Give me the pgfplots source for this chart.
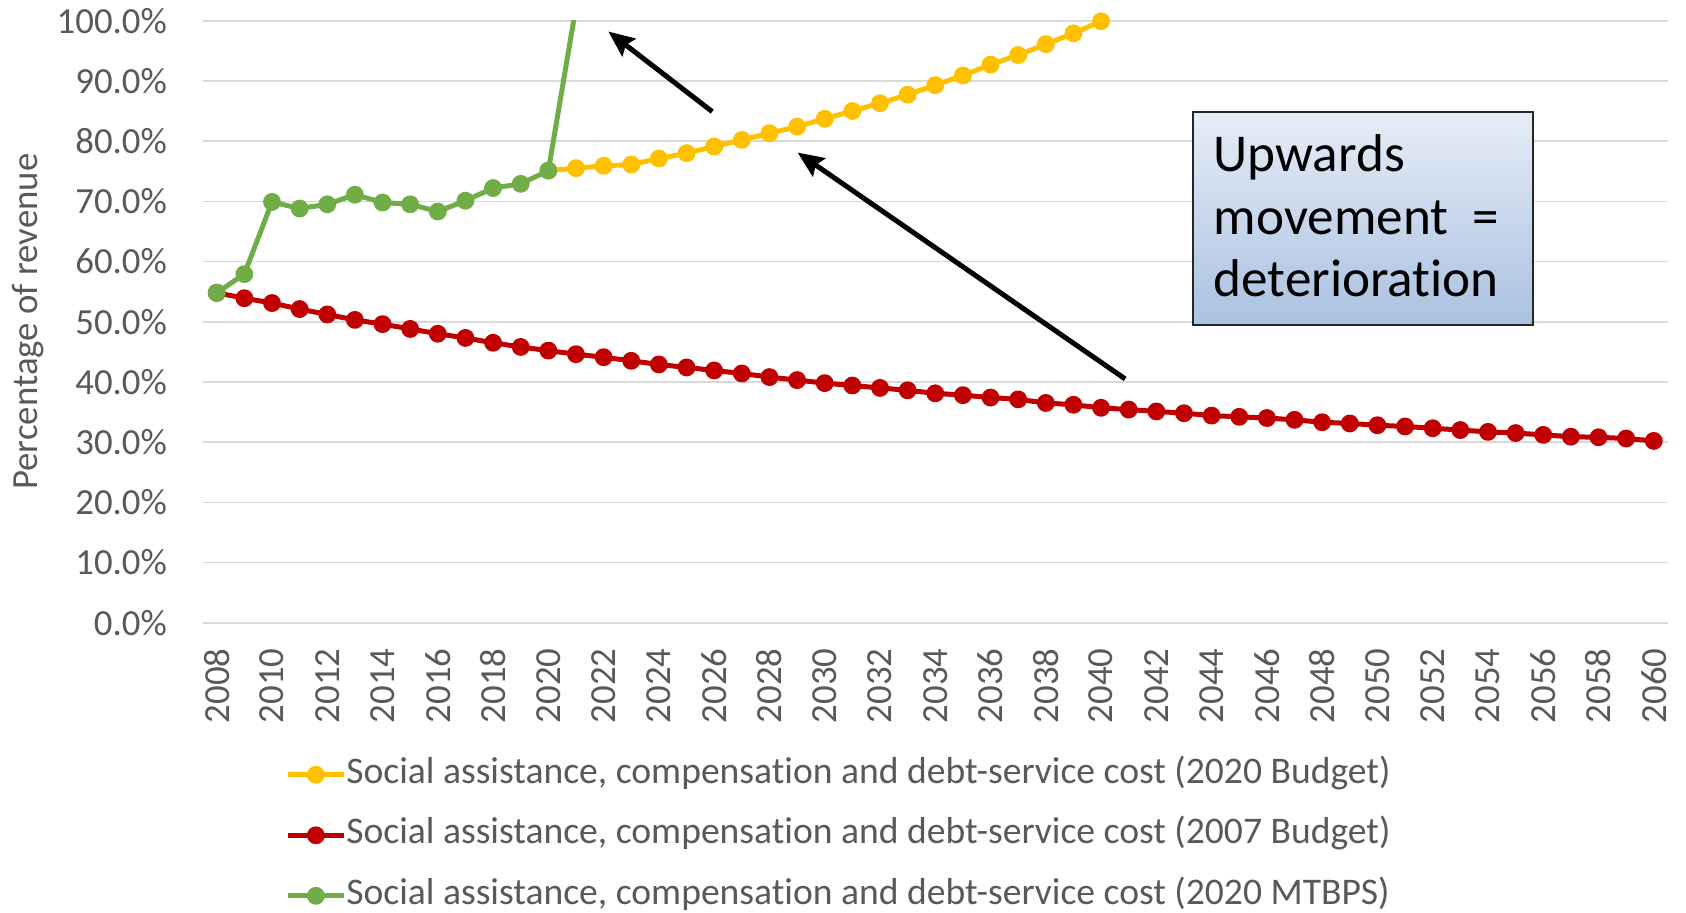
\documentclass[border=0pt]{standalone}
\usepackage{fontspec}
\setmainfont{Carlito}[Ligatures=NoCommon]
\usepackage{pgfplots}
\pgfplotsset{compat=1.18}
\usetikzlibrary{arrows.meta}

\definecolor{budgetYellow}{HTML}{FFC000}
\definecolor{budgetRed}{HTML}{C00000}
\definecolor{mtbpsGreen}{HTML}{70AD47}
\definecolor{tickGray}{HTML}{595959}
\definecolor{gridGray}{HTML}{D9D9D9}
\definecolor{boxTop}{HTML}{E6EDF7}
\definecolor{boxBottom}{HTML}{AAC1E0}

\newcommand\chartfont{\fontsize{18.4pt}{22pt}\selectfont}
\newcommand\legendfont{\fontsize{18.8pt}{22pt}\selectfont}
\newcommand\boxfont{\fontsize{26.6pt}{31pt}\selectfont}

% Spending ratios (% of revenue)
\pgfplotstableread{
year value
2020 75.1
2021 75.5
2022 75.9
2023 76.1
2024 77.1
2025 78.0
2026 79.1
2027 80.2
2028 81.3
2029 82.4
2030 83.7
2031 85.0
2032 86.3
2033 87.7
2034 89.3
2035 90.9
2036 92.7
2037 94.3
2038 96.1
2039 97.9
2040 99.9
}\budgetTwentyTwenty

\pgfplotstableread{
year value
2008 54.8
2009 53.9
2010 53.1
2011 52.1
2012 51.2
2013 50.3
2014 49.6
2015 48.8
2016 48.0
2017 47.3
2018 46.5
2019 45.8
2020 45.2
2021 44.6
2022 44.1
2023 43.5
2024 42.9
2025 42.4
2026 41.9
2027 41.4
2028 40.8
2029 40.3
2030 39.8
2031 39.4
2032 39.0
2033 38.6
2034 38.1
2035 37.8
2036 37.4
2037 37.1
2038 36.5
2039 36.2
2040 35.7
2041 35.4
2042 35.1
2043 34.8
2044 34.4
2045 34.2
2046 34.0
2047 33.7
2048 33.3
2049 33.1
2050 32.8
2051 32.6
2052 32.3
2053 32.0
2054 31.7
2055 31.5
2056 31.2
2057 30.9
2058 30.8
2059 30.6
2060 30.2
}\budgetTwoThousandSeven

\pgfplotstableread{
year value
2008 54.8
2009 57.9
2010 69.9
2011 68.8
2012 69.5
2013 71.1
2014 69.8
2015 69.5
2016 68.3
2017 70.1
2018 72.2
2019 72.9
2020 75.1
2021 102.3
}\mtbps

\begin{document}
\begin{tikzpicture}
\useasboundingbox (0,0) rectangle (843pt,456pt);
\begin{axis}[
  at={(101.45pt,144.65pt)}, anchor=south west,
  width=732.35pt, height=301pt, scale only axis,
  xmin=2007.5, xmax=2060.5, ymin=0, ymax=100,
  clip mode=individual,
  axis line style={draw=none},
  major tick length=0pt,
  ymajorgrids, grid style={gridGray, line width=0.8pt},
  xtick={2008,2010,...,2060},
  xticklabels={2008,2010,2012,2014,2016,2018,2020,2022,2024,2026,2028,2030,2032,2034,2036,2038,2040,2042,2044,2046,2048,2050,2052,2054,2056,2058,2060},
  ytick={0,10,...,100},
  yticklabels={0.0\%,10.0\%,20.0\%,30.0\%,40.0\%,50.0\%,60.0\%,70.0\%,80.0\%,90.0\%,100.0\%},
  xticklabel style={rotate=90, anchor=east, inner sep=0pt, font=\chartfont, text=tickGray},
  xticklabel shift=12.8pt,
  yticklabel style={anchor=east, inner sep=0pt, font=\chartfont, text=tickGray},
  yticklabel shift=17.8pt,
  ylabel={Percentage of revenue},
  ylabel style={at={(axis description cs:-0.1194,0.5)}, anchor=center, inner sep=0pt, font=\chartfont, text=tickGray},
  legend style={at={(axis description cs:0.0563,-0.2236)}, anchor=north west,
    draw=none, fill=none, inner sep=0pt, outer sep=0pt,
    row sep=12.75pt, column sep=0pt,
    font=\legendfont, text=tickGray,
    nodes={inner sep=0pt, text height=13pt, text depth=4.5pt}},
  legend cell align=left,
  legend image code/.code={
    \draw[#1, mark=none] (0pt,0pt) -- (28pt,0pt);
    \draw[#1] plot coordinates {(14pt,0pt)};
  },
  every axis plot/.append style={line width=2.5pt, line join=round,
    mark=*, mark size=3.2pt, mark options={solid, draw=none}},
]
\addplot[budgetYellow, mark options={fill=budgetYellow}] table[x=year, y=value] {\budgetTwentyTwenty};
\addlegendentry{Social assistance, compensation and debt-service cost (2020 Budget)}
\addplot[budgetRed, mark options={fill=budgetRed}] table[x=year, y=value] {\budgetTwoThousandSeven};
\addlegendentry{Social assistance, compensation and debt-service cost (2007 Budget)}
\addplot[mtbpsGreen, mark options={fill=mtbpsGreen}, mark indices={1,2,3,4,5,6,7,8,9,10,11,12,13}] table[x=year, y=value] {\mtbps};
\addlegendentry{Social assistance, compensation and debt-service cost (2020 MTBPS)}

% arrows pointing in the direction of worsening
\draw[black, line width=2.5pt, -{Stealth[length=13pt, width=11pt, inset=2pt]}]
  (axis cs:2025.93,84.9) -- (axis cs:2022.17,98.2);
\draw[black, line width=2.5pt, -{Stealth[length=13pt, width=11pt, inset=2pt]}]
  (axis cs:2040.87,40.5) -- (axis cs:2029.02,78.1);
\end{axis}

% explanatory text box
\shade[top color=boxTop, bottom color=boxBottom] (596.35pt,293.5pt) rectangle (766.65pt,399.85pt);
\draw[black!85, line width=0.9pt] (596.35pt,293.5pt) rectangle (766.65pt,399.85pt);
\node[anchor=base west, inner sep=0pt, font=\boxfont] at (606.65pt,370.2pt) {Upwards};
\node[anchor=base west, inner sep=0pt, font=\boxfont] at (606.65pt,338.95pt) {movement\ \ =};
\node[anchor=base west, inner sep=0pt, font=\boxfont] at (606.65pt,307.7pt) {deterioration};
\end{tikzpicture}
\end{document}
